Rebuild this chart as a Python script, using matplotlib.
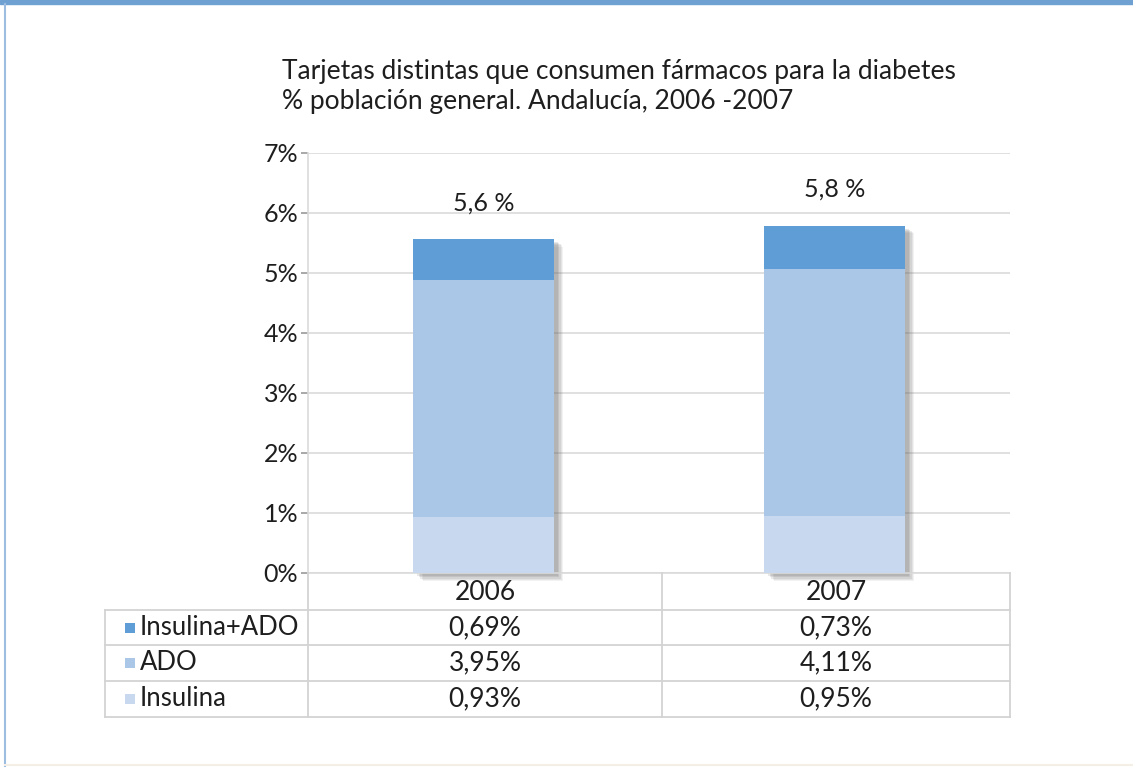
import matplotlib
matplotlib.use("Agg")
import matplotlib.pyplot as plt
from matplotlib.lines import Line2D
from matplotlib.patches import Rectangle
import matplotlib.patheffects as pe

# ---- data ----
years = ["2006", "2007"]
series_names = ["Insulina+ADO", "ADO", "Insulina"]
insulina = [0.93, 0.95]
ado = [3.95, 4.11]
insulina_ado = [0.69, 0.73]
total_labels = ["5,6 %", "5,8 %"]
ytick_vals = [0, 1, 2, 3, 4, 5, 6, 7]
title_lines = ["Tarjetas distintas que consumen fármacos para la diabetes",
               "% población general. Andalucía, 2006 -2007"]

colors = {"Insulina+ADO": "#5F9DD6", "ADO": "#AAC7E8", "Insulina": "#C8D9EF"}

plt.rcParams['font.family'] = ['Lato', 'DejaVu Sans']
W, H = 1133, 768
fig = plt.figure(figsize=(W / 100, H / 100), dpi=100)
fig.patch.set_facecolor("white")
TXT = "#1e1e1e"

def fx(px):
    return px / W

def fy(py):
    return 1 - py / H

# frame
fig.add_artist(Rectangle((0, fy(4)), 1, 4 / H, transform=fig.transFigure,
                         color="#6FA0D2", zorder=0))
fig.add_artist(Line2D([fx(5), fx(5)], [fy(4), fy(766)], transform=fig.transFigure,
                      color="#9DBDE0", lw=1.5))
fig.add_artist(Line2D([fx(5), fx(1133)], [fy(765), fy(765)], transform=fig.transFigure,
                      color="#f3efe6", lw=1.5))

# axes
ax_l, ax_r, ax_t, ax_b = 308, 1010, 153, 573
ax = fig.add_axes([fx(ax_l), fy(ax_b), fx(ax_r) - fx(ax_l), fy(ax_t) - fy(ax_b)])
ax.set_xlim(-0.5, 1.5)
ax.set_ylim(0, 7)
x = list(range(len(years)))
width = 0.40

totals = [a + b + c for a, b, c in zip(insulina, ado, insulina_ado)]

# soft shadow behind the whole stack
shadow = [pe.SimplePatchShadow(offset=(o, -o * 0.8), shadow_rgbFace="#606060", alpha=a)
          for o, a in [(7.0, 0.08), (6.0, 0.10), (5.0, 0.12), (4.0, 0.14), (3.0, 0.14)]]
shadow.append(pe.Normal())
sh = ax.bar(x, totals, width, color=colors["ADO"], zorder=2, linewidth=0)
for b in sh:
    b.set_path_effects(shadow)
    b.set_clip_on(False)

bottoms = [0.0] * len(years)
for name, vals in [("Insulina", insulina), ("ADO", ado), ("Insulina+ADO", insulina_ado)]:
    ax.bar(x, vals, width, bottom=bottoms, color=colors[name], zorder=3, linewidth=0)
    bottoms = [b0 + v for b0, v in zip(bottoms, vals)]

for xi, tot, lab in zip(x, bottoms, total_labels):
    ax.annotate(lab, (xi, tot), xytext=(0, 26), textcoords="offset points",
                ha="center", va="center", fontsize=18, color=TXT)

ax.set_yticks(ytick_vals)
ax.set_yticklabels([f"{v}%" for v in ytick_vals])
ax.set_xticks([])
ax.tick_params(axis="y", length=5, width=1.2, color="#999999", pad=2,
               labelsize=18, labelcolor=TXT)
ax.grid(axis="y", color="#dadada", lw=1.2, zorder=0)
for s in ["top", "right"]:
    ax.spines[s].set_visible(False)
ax.spines["left"].set_color("#dadada")
ax.spines["left"].set_linewidth(1.2)
ax.spines["bottom"].set_color("#dadada")
ax.spines["bottom"].set_linewidth(1.2)

# title
fig.text(fx(282), fy(72), title_lines[0], ha="left", va="center", fontsize=19, color=TXT)
fig.text(fx(282), fy(101), title_lines[1], ha="left", va="center", fontsize=19, color=TXT)

# data table
line_c = "#d3d3d3"
def hline(py, x0, x1):
    fig.add_artist(Line2D([fx(x0), fx(x1)], [fy(py), fy(py)], transform=fig.transFigure,
                          color=line_c, lw=1.3))
def vline(px, y0, y1):
    fig.add_artist(Line2D([fx(px), fx(px)], [fy(y0), fy(y1)], transform=fig.transFigure,
                          color=line_c, lw=1.3))

row_lines = [610, 645, 681, 717]
for py in row_lines:
    hline(py, 105, ax_r)
vline(105, 610, 717)
col_edges = [ax_l, 662, ax_r]
for px in col_edges:
    vline(px, ax_b, 717)

# header (years)
col_centers = [(col_edges[i] + col_edges[i + 1]) / 2 for i in range(len(years))]
for cx, yr in zip(col_centers, years):
    fig.text(fx(cx), fy(592), yr, ha="center", va="center", fontsize=19, color=TXT)

rows = [("Insulina+ADO", insulina_ado), ("ADO", ado), ("Insulina", insulina)]
for i, (name, vals) in enumerate(rows):
    cy = (row_lines[i] + row_lines[i + 1]) / 2
    fig.add_artist(Rectangle((fx(125), fy(cy + 5)), 10 / W, 10 / H, transform=fig.transFigure,
                             color=colors[name], lw=0))
    fig.text(fx(140), fy(cy), name, ha="left", va="center", fontsize=18.5, color=TXT)
    for cx, v in zip(col_centers, vals):
        fig.text(fx(cx), fy(cy), f"{v:.2f}%".replace(".", ","), ha="center", va="center",
                 fontsize=19, color=TXT)

fig.savefig("out.png", dpi=100, facecolor="white")
